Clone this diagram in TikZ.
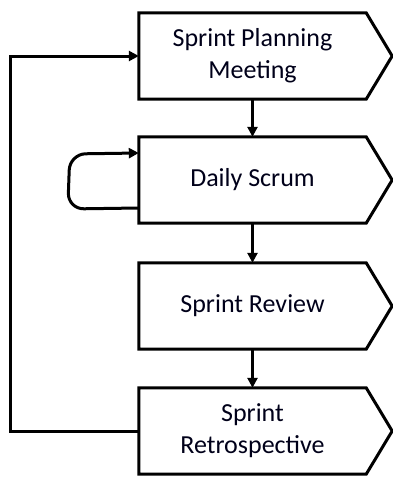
\documentclass[tikz,border=0pt]{standalone}
\usepackage{fontspec}
\setmainfont{Carlito}
\usetikzlibrary{arrows.meta,calc}
\begin{document}
\begin{tikzpicture}[x=1pt, y=-1pt,
        stage/.style={rectangle, minimum width=227pt, minimum height=86pt, inner sep=0pt,
            align=center, font=\fontsize{26}{32}\selectfont, text=black!90!blue},
        outline/.style={line width=3pt, line join=miter},
        arrow/.style={-{Triangle[length=10pt,width=10pt]}, line width=3pt}
    ]
        \useasboundingbox (0,0) rectangle (392,477);
        \node[stage] (plan)  at (252.5,56)  {Sprint Planning\\Meeting};
        \node[stage] (daily) at (252.5,180) {Daily Scrum};
        \node[stage] (review) at (252.5,306) {Sprint Review};
        \node[stage] (retro) at (252.5,431) {Sprint\\Retrospective};
        \coordinate (rail) at (10,240);
        \foreach \n in {plan,daily,review,retro} {
            \draw[outline] (\n.north west) -- (\n.north east) -- ([xshift=26pt]\n.east)
                -- (\n.south east) -- (\n.south west) -- cycle;
        }
        \draw[arrow] (plan.south) -- (daily.north);
        \draw[arrow] (daily.south) -- (review.north);
        \draw[arrow] (review.south) -- (retro.north);
        \draw[arrow] (retro.west) -- (retro.west -| rail) -- (plan.west -| rail) -- (plan.west);
        \draw[arrow, rounded corners=16pt] ([yshift=-28pt]daily.west) -- ++(-71,1)
            -- ++(2,-55) -- ([yshift=27pt]daily.west);
    \end{tikzpicture}
\end{document}
